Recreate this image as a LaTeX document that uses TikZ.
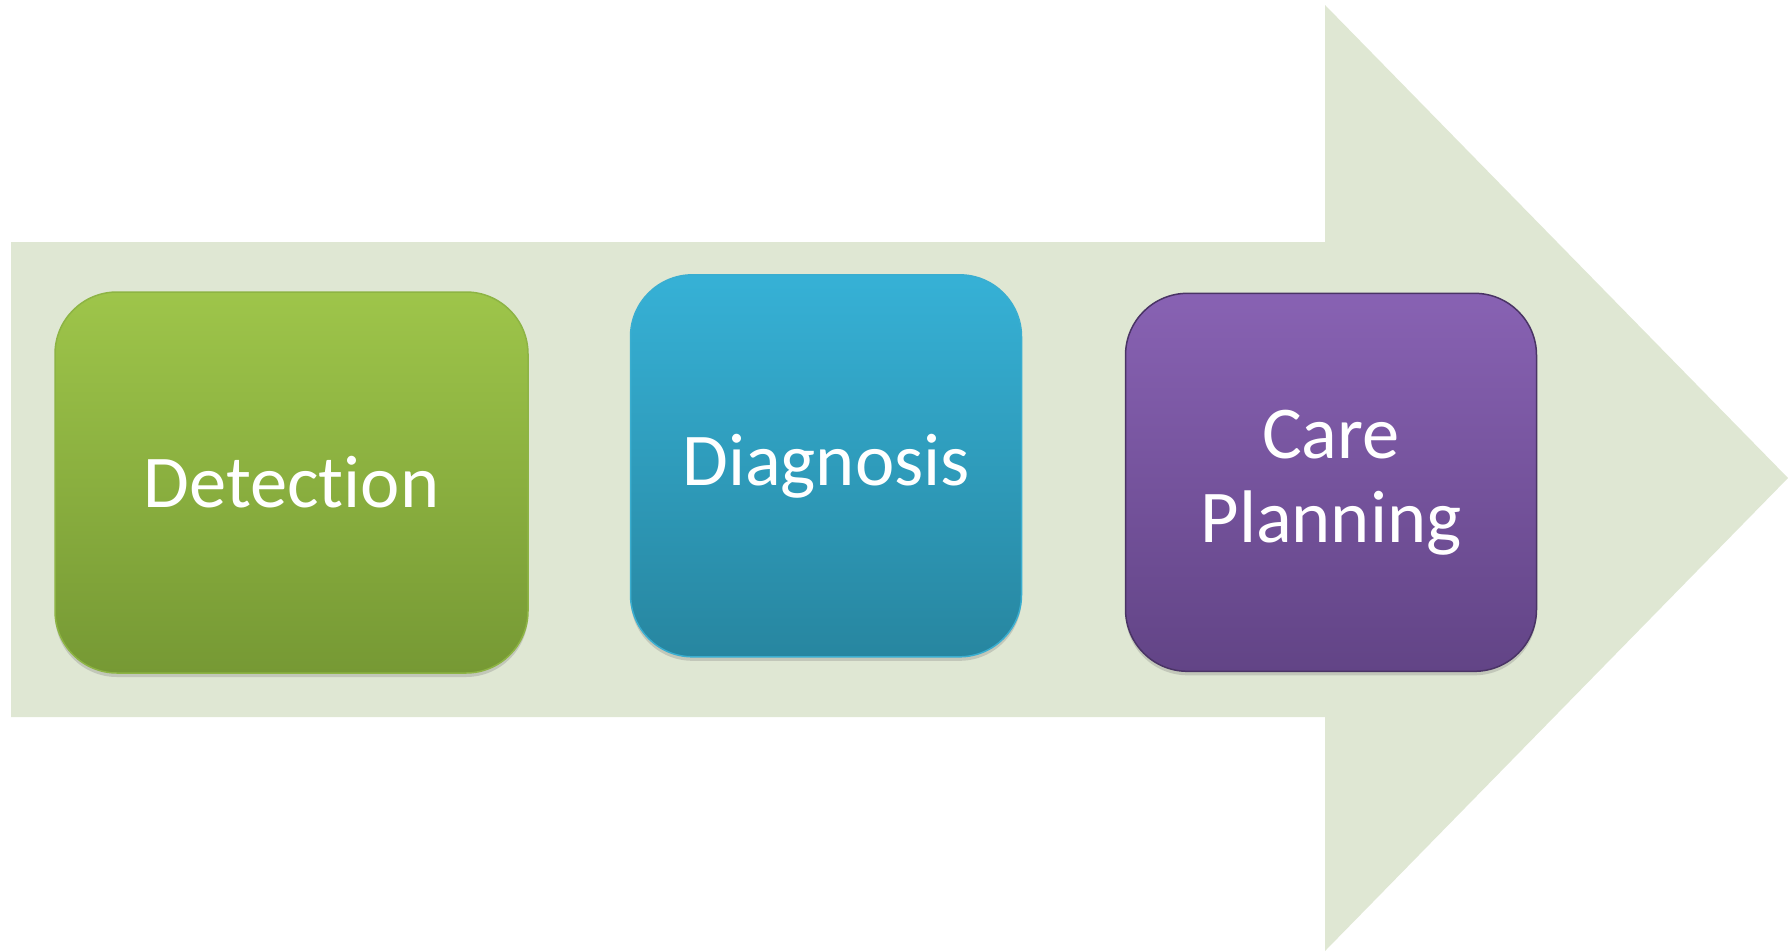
\documentclass[tikz,border=0pt]{standalone}
\usepackage{fontspec}
\setmainfont{Carlito}[Ligatures={NoCommon,NoRare,NoDiscretionary}]
\usetikzlibrary{shadows}
\definecolor{arrowfill}{HTML}{DFE7D3}
\definecolor{gtop}{HTML}{9EC54A}
\definecolor{gbot}{HTML}{769934}
\definecolor{gedge}{HTML}{8DB444}
\definecolor{btop}{HTML}{36B1D6}
\definecolor{bbot}{HTML}{2786A0}
\definecolor{bedge}{HTML}{3AAED0}
\definecolor{ptop}{HTML}{8862B3}
\definecolor{pbot}{HTML}{624486}
\definecolor{pedge}{HTML}{4A3465}
\tikzset{
  stagebox/.style={rectangle, rounded corners=62pt, inner sep=0pt, align=center,
    text=white, font=\fontsize{74.5}{84}\selectfont, line width=1.5pt,
    drop shadow={opacity=0.3, shadow xshift=0pt, shadow yshift=-4pt}},
}
\begin{document}
\begin{tikzpicture}[x=1pt,y=-1pt]
\useasboundingbox (0,0) rectangle (1788,951);
\fill[arrowfill] (11,242) -- (1325,242) -- (1325,5) -- (1788,478) -- (1325,951) -- (1325,717) -- (11,717) -- cycle;
\node[stagebox, draw=gedge, top color=gtop, bottom color=gbot,
  minimum width=473pt, minimum height=381pt] (detect) at (291.5,482.5) {Detection};
\node[stagebox, draw=bedge, top color=btop, bottom color=bbot,
  minimum width=391pt, minimum height=382pt] (diag) at (826,465.8) {Diagnosis};
\node[stagebox, draw=pedge, top color=ptop, bottom color=pbot,
  minimum width=411pt, minimum height=378pt] (care) at (1331,482.3) {Care\\Planning};
\end{tikzpicture}
\end{document}
